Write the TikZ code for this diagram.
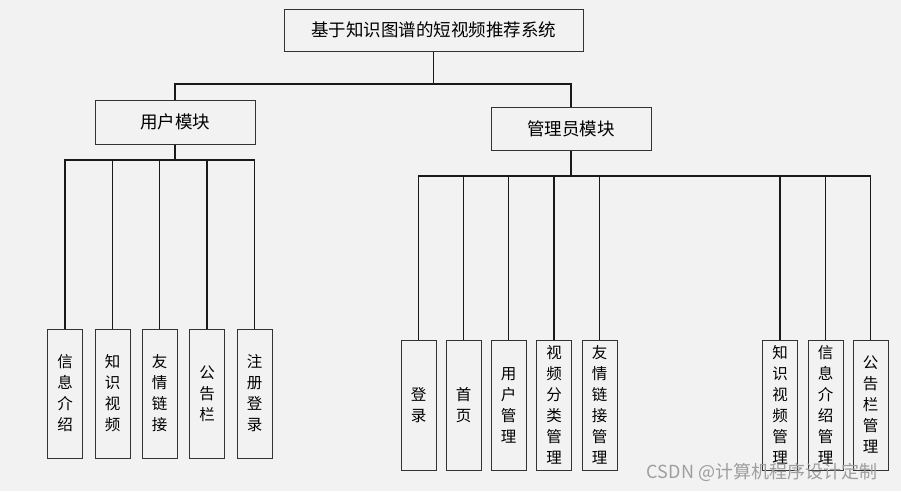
\documentclass[tikz,border=0pt]{standalone}
\usepackage{fontspec}
\setmainfont{Noto Sans CJK SC}
\definecolor{bgc}{HTML}{F2F2F2}
\definecolor{edge}{HTML}{333333}

\begin{document}
\begin{tikzpicture}[x=1pt,y=-1pt,
  box/.style={draw=edge,fill=bgc,line width=1pt,inner sep=0pt,font=\fontsize{17.5}{20}\selectfont},
  leaf/.style={draw=edge,fill=bgc,line width=1pt,minimum width=35pt,inner sep=0pt,align=center,font=\fontsize{15.5}{21}\selectfont},
  link/.style={line width=1.2pt,black!90}]

\fill[bgc] (0,0) rectangle (901,491);

\node[box,minimum width=299pt,minimum height=42pt] (top) at (433.5,30) {基于知识图谱的短视频推荐系统};
\node[box,minimum width=160pt,minimum height=44pt] (user) at (175,122) {用户模块};
\node[box,minimum width=160pt,minimum height=43pt] (admin) at (571,128.5) {管理员模块};

\coordinate (tjoin) at (433.5,84);
\coordinate (ujoin) at (175,160);
\coordinate (ajoin) at (571,176);

\draw[link] (top.south) -- (tjoin);
\draw[link] (tjoin) -| (user.north);
\draw[link] (tjoin) -| (admin.north);
\draw[link] (user.south) -- (ujoin);
\draw[link] (admin.south) -- (ajoin);

\foreach \x/\t [count=\i] in {65/{信\\息\\介\\绍},112.5/{知\\识\\视\\频},159.5/{友\\情\\链\\接},207/{公\\告\\栏},254.5/{注\\册\\登\\录}}{
  \node[leaf,minimum height=129pt] (u\i) at (\x,393.5) {\t};
  \draw[link] (ujoin) -| (u\i.north);
}

\foreach \x/\t [count=\i] in {418.5/{登\\录},463.5/{首\\页},508.5/{用\\户\\管\\理},554/{视\\频\\分\\类\\管\\理},599.5/{友\\情\\链\\接\\管\\理},780/{知\\识\\视\\频\\管\\理},825.5/{信\\息\\介\\绍\\管\\理},870.5/{公\\告\\栏\\管\\理}}{
  \node[leaf,minimum height=130pt] (a\i) at (\x,405) {\t};
  \draw[link] (ajoin) -| (a\i.north);
}

\node[text=black!38,font=\fontsize{18}{20}\selectfont,inner sep=0pt] (mark) at (762,472) {CSDN @计算机程序设计定制};
\end{tikzpicture}
\end{document}
